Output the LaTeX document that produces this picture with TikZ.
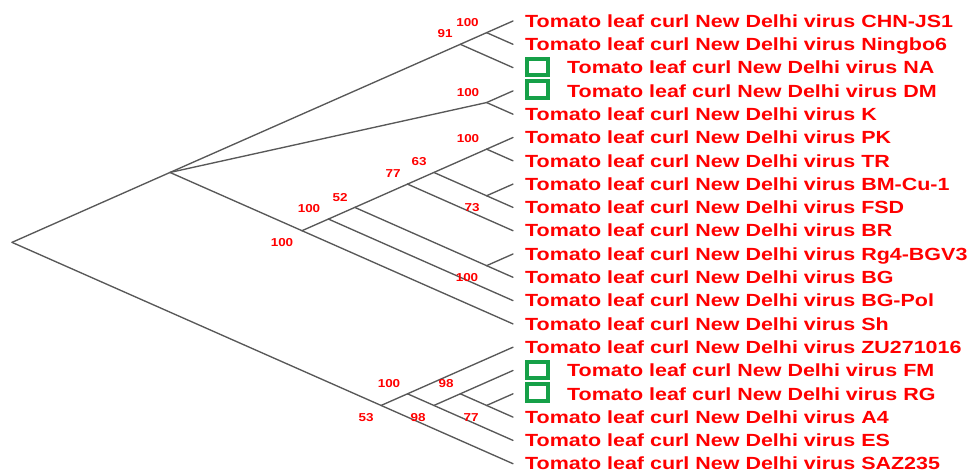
\documentclass[tikz,border=0pt]{standalone}
\usepackage{fontspec}
\usepackage{graphicx}
\setmainfont{Liberation Sans}
\definecolor{treegray}{RGB}{88,88,88}
\definecolor{labred}{RGB}{255,0,0}
\definecolor{boxgreen}{RGB}{22,160,72}
\newcommand{\leaftxt}[1]{\scalebox{1.22}[1]{\bfseries #1}}
\newcommand{\bstxt}[1]{\scalebox{1.17}[1]{\bfseries #1}}
\begin{document}
\begin{tikzpicture}[x=1pt,y=-1pt,
  branch/.style={draw=treegray,line width=1.35pt,line cap=round},
  leaflab/.style={anchor=base west,inner sep=0pt,text=labred,font=\fontsize{17.6}{18}\selectfont},
  bslab/.style={anchor=center,inner sep=0pt,text=labred,font=\fontsize{11.5}{12}\selectfont},
  markbox/.style={draw=boxgreen,line width=4pt,minimum width=21pt,minimum height=16.5pt,inner sep=0pt}]
\useasboundingbox (0,0) rectangle (969,472);
% leaves
\foreach \i in {0,...,19}{
  \coordinate (l\i) at (513,{21+23.3*\i});
}
% internal nodes
\coordinate (R) at (12,242.35);
\coordinate (A) at (170,172.45);
\coordinate (G) at (460.3,44.3);
\coordinate (H) at (486.6,32.65);
\coordinate (I) at (486.6,102.55);
\coordinate (J) at (302,230.7);
\coordinate (K) at (328.4,219.05);
\coordinate (L) at (354.8,207.4);
\coordinate (M) at (407.5,184.1);
\coordinate (N) at (433.9,172.45);
\coordinate (O) at (486.6,149.15);
\coordinate (P) at (486.6,195.75);
\coordinate (Q) at (486.6,265.65);
\coordinate (B) at (381.1,405.45);
\coordinate (C) at (407.5,393.8);
\coordinate (D) at (433.9,405.45);
\coordinate (E) at (460.3,393.8);
\coordinate (F) at (486.6,405.45);
% branches
\draw[branch] (R) -- (A);
\draw[branch] (R) -- (B);
\draw[branch] (A) -- (G);
\draw[branch] (A) -- (I);
\draw[branch] (A) -- (J);
\draw[branch] (G) -- (H);
\draw[branch] (G) -- (l2);
\draw[branch] (H) -- (l0);
\draw[branch] (H) -- (l1);
\draw[branch] (I) -- (l3);
\draw[branch] (I) -- (l4);
\draw[branch] (J) -- (K);
\draw[branch] (J) -- (l13);
\draw[branch] (K) -- (L);
\draw[branch] (K) -- (l12);
\draw[branch] (L) -- (M);
\draw[branch] (L) -- (Q);
\draw[branch] (M) -- (N);
\draw[branch] (M) -- (l9);
\draw[branch] (N) -- (O);
\draw[branch] (N) -- (P);
\draw[branch] (O) -- (l5);
\draw[branch] (O) -- (l6);
\draw[branch] (P) -- (l7);
\draw[branch] (P) -- (l8);
\draw[branch] (Q) -- (l10);
\draw[branch] (Q) -- (l11);
\draw[branch] (B) -- (C);
\draw[branch] (B) -- (l19);
\draw[branch] (C) -- (l14);
\draw[branch] (C) -- (D);
\draw[branch] (D) -- (E);
\draw[branch] (D) -- (l18);
\draw[branch] (E) -- (l15);
\draw[branch] (E) -- (F);
\draw[branch] (F) -- (l16);
\draw[branch] (F) -- (l17);
% bootstrap values
\node[bslab] (bH) at (467.5,22.5) {\bstxt{100}};
\node[bslab] (bG) at (445,34) {\bstxt{91}};
\node[bslab] (bI) at (468,93) {\bstxt{100}};
\node[bslab] (bO) at (468,139) {\bstxt{100}};
\node[bslab] (bN) at (419,162) {\bstxt{63}};
\node[bslab] (bM) at (393,174) {\bstxt{77}};
\node[bslab] (bP) at (472,208) {\bstxt{73}};
\node[bslab] (bL) at (340,198) {\bstxt{52}};
\node[bslab] (bK) at (309,209) {\bstxt{100}};
\node[bslab] (bJ) at (282,243) {\bstxt{100}};
\node[bslab] (bQ) at (467,278) {\bstxt{100}};
\node[bslab] (bB1) at (389,384) {\bstxt{100}};
\node[bslab] (bE) at (446,384) {\bstxt{98}};
\node[bslab] (bB) at (366,418) {\bstxt{53}};
\node[bslab] (bC) at (418,418) {\bstxt{98}};
\node[bslab] (bF) at (471,418) {\bstxt{77}};
% green marks
\node[markbox] (m2) at (537.5,67) {};
\node[markbox] (m3) at (537.5,89.3) {};
\node[markbox] (m15) at (537.5,370) {};
\node[markbox] (m16) at (537.5,392.5) {};
% leaf labels
\node[leaflab] (t0) at (525,{21+23.3*0+6.2}) {\leaftxt{Tomato leaf curl New Delhi virus CHN-JS1}};
\node[leaflab] (t1) at (525,{21+23.3*1+6.2}) {\leaftxt{Tomato leaf curl New Delhi virus Ningbo6}};
\node[leaflab] (t2) at (567,{21+23.3*2+6.2}) {\leaftxt{Tomato leaf curl New Delhi virus NA}};
\node[leaflab] (t3) at (567,{21+23.3*3+6.2}) {\leaftxt{Tomato leaf curl New Delhi virus DM}};
\node[leaflab] (t4) at (525,{21+23.3*4+6.2}) {\leaftxt{Tomato leaf curl New Delhi virus K}};
\node[leaflab] (t5) at (525,{21+23.3*5+6.2}) {\leaftxt{Tomato leaf curl New Delhi virus PK}};
\node[leaflab] (t6) at (525,{21+23.3*6+6.2}) {\leaftxt{Tomato leaf curl New Delhi virus TR}};
\node[leaflab] (t7) at (525,{21+23.3*7+6.2}) {\leaftxt{Tomato leaf curl New Delhi virus BM-Cu-1}};
\node[leaflab] (t8) at (525,{21+23.3*8+6.2}) {\leaftxt{Tomato leaf curl New Delhi virus FSD}};
\node[leaflab] (t9) at (525,{21+23.3*9+6.2}) {\leaftxt{Tomato leaf curl New Delhi virus BR}};
\node[leaflab] (t10) at (525,{21+23.3*10+6.2}) {\leaftxt{Tomato leaf curl New Delhi virus Rg4-BGV3}};
\node[leaflab] (t11) at (525,{21+23.3*11+6.2}) {\leaftxt{Tomato leaf curl New Delhi virus BG}};
\node[leaflab] (t12) at (525,{21+23.3*12+6.2}) {\leaftxt{Tomato leaf curl New Delhi virus BG-Pol}};
\node[leaflab] (t13) at (525,{21+23.3*13+6.2}) {\leaftxt{Tomato leaf curl New Delhi virus Sh}};
\node[leaflab] (t14) at (525,{21+23.3*14+6.2}) {\leaftxt{Tomato leaf curl New Delhi virus ZU271016}};
\node[leaflab] (t15) at (567,{21+23.3*15+6.2}) {\leaftxt{Tomato leaf curl New Delhi virus FM}};
\node[leaflab] (t16) at (567,{21+23.3*16+6.2}) {\leaftxt{Tomato leaf curl New Delhi virus RG}};
\node[leaflab] (t17) at (525,{21+23.3*17+6.2}) {\leaftxt{Tomato leaf curl New Delhi virus A4}};
\node[leaflab] (t18) at (525,{21+23.3*18+6.2}) {\leaftxt{Tomato leaf curl New Delhi virus ES}};
\node[leaflab] (t19) at (525,{21+23.3*19+6.2}) {\leaftxt{Tomato leaf curl New Delhi virus SAZ235}};
\end{tikzpicture}
\end{document}
